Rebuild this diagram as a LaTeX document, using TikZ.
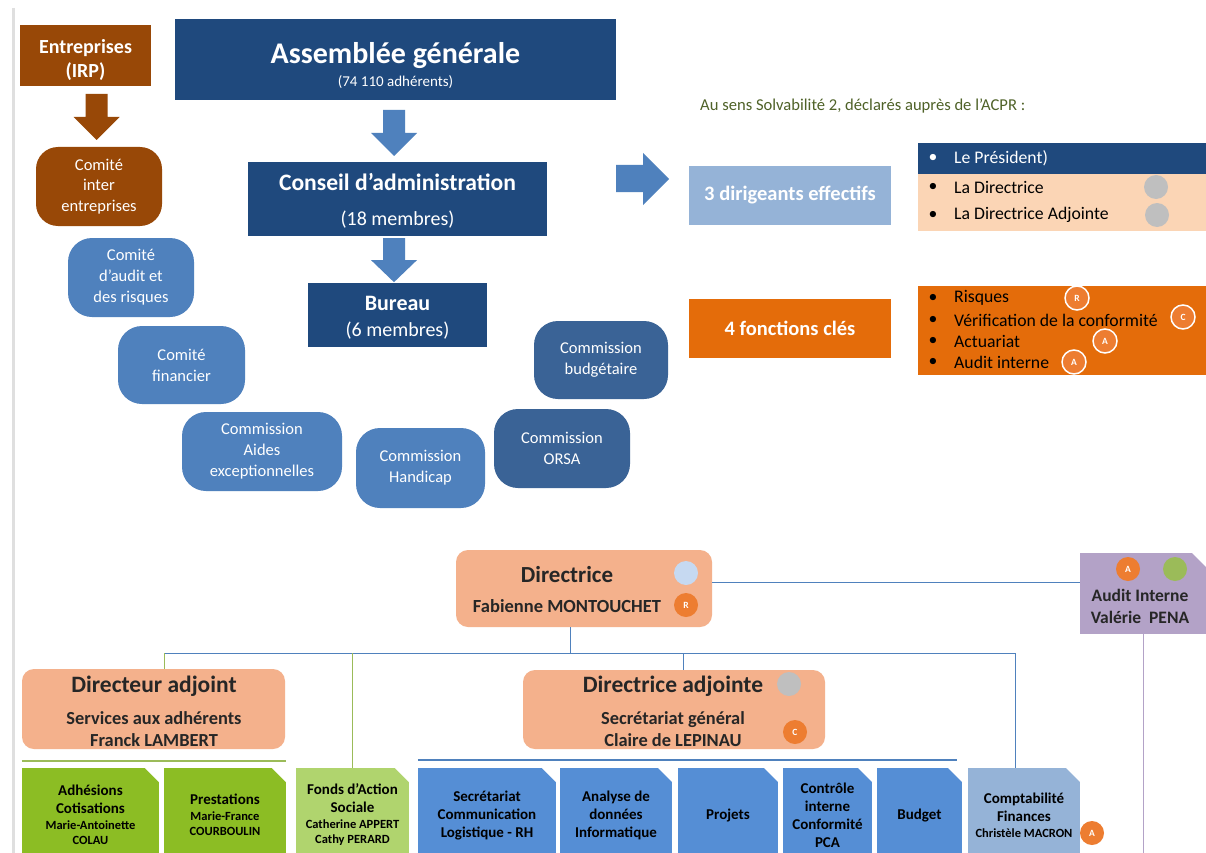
\documentclass[tikz,border=0pt]{standalone}
\usepackage{fontspec}
\setmainfont{Carlito}
\usetikzlibrary{calc}

\definecolor{navy}{HTML}{1F497D}
\definecolor{brun}{HTML}{984807}
\definecolor{bleu}{HTML}{4F81BD}
\definecolor{bleufonce}{HTML}{3A6396}
\definecolor{bleuclair}{HTML}{95B3D7}
\definecolor{orfonce}{HTML}{E46C0A}
\definecolor{peche}{HTML}{FBD5B5}
\definecolor{saumon}{HTML}{F4B18C}
\definecolor{vert}{HTML}{8CBD24}
\definecolor{vertclair}{HTML}{B0D46E}
\definecolor{bleubox}{HTML}{558ED5}
\definecolor{mauve}{HTML}{B3A2C7}
\definecolor{vertrond}{HTML}{9BBB59}
\definecolor{gristxt}{HTML}{262626}
\definecolor{vertxt}{HTML}{4F6228}
\definecolor{rondgris}{HTML}{BFBFBF}
\definecolor{rondbleu}{HTML}{C6D9F1}
\definecolor{rondor}{HTML}{ED7D31}

\newcommand{\fsz}[2]{\fontsize{#1}{#2}\selectfont}

\tikzset{
  box/.style={inner sep=0pt, align=center, text=white},
  comite/.style={box, rounded corners=24pt, fill=bleu, font=\fsz{16.5}{21}},
  txt/.style={inner sep=0pt, align=center, text=gristxt},
  itm/.style={anchor=west, inner sep=0pt, font=\fsz{17.7}{20}},
  puce/.style={inner sep=0pt, font=\fsz{17.7}{20}},
  rond/.style={circle, minimum size=24, inner sep=0pt, font=\bfseries\fsz{9.5}{10}, text=white},
  fold/.style={fill=#1, path picture={
    \fill[white] ($(path picture bounding box.north east)+(-14,0)$)
      -- (path picture bounding box.north east)
      -- ($(path picture bounding box.north east)+(0,14)$) -- cycle;}},
  tab/.style={fold=#1, inner sep=0pt, align=center, text=black,
    minimum height=94, font=\bfseries\fsz{15}{18}},
  lien/.style={draw=bleu, line width=1pt},
  lienvert/.style={draw=vertrond, line width=1pt},
  pics/flechebas/.style={code={
    \fill (-11,0) -- (11,0) -- (11,23) -- (23,23) -- (0,46)
      -- (-23,23) -- (-11,23) -- cycle;}}
}

\begin{document}
\begin{tikzpicture}[x=1pt, y=-1pt]
  \useasboundingbox (0,0) rectangle (1206,853);
  \clip (0,0) rectangle (1206,853);
  \fill[white] (0,0) rectangle (1206,853);
  \draw[gray!25, line width=3pt] (13,8) -- (13,853);

  % gouvernance
  \node[fill=brun, minimum width=131, minimum height=61, inner sep=0pt] (ent) at (85.5,55.5) {};
  \node[box, font=\bfseries\fsz{20}{24}] (entT) at (85.5,60) {Entreprises\\(IRP)};
  \pic[brun] at (96.5,94) {flechebas};
  \node[box, fill=brun, rounded corners=22pt, minimum width=126, minimum height=79, font=\fsz{16.5}{20.5}] (cie) at (99,186.5) {Comité\\inter\\entreprises};

  \node[fill=navy, minimum width=441, minimum height=81, inner sep=0pt] (ag) at (395.5,59.5) {};
  \node[box, font=\fsz{15}{23}] (agT) at (395.5,66) {{\fsz{30}{30}\bfseries Assemblée générale}\\(74 110 adhérents)};
  \pic[bleu] at (394,110) {flechebas};
  \node[fill=navy, minimum width=299, minimum height=74, inner sep=0pt] (ca) at (397.5,199) {};
  \node[box, font=\fsz{20}{35}] (caT) at (397.5,201) {{\fsz{23.6}{23.6}\bfseries Conseil d’administration}\\(18 membres)};
  \pic[bleu, yscale=0.96] at (394,238) {flechebas};
  \node[fill=navy, minimum width=179, minimum height=64, inner sep=0pt] (bur) at (397.5,315) {};
  \node[box, font=\fsz{20}{26}] (burT) at (397.5,318) {{\fsz{22}{22}\bfseries Bureau}\\(6 membres)};

  \node[comite, minimum width=126, minimum height=79] (caud) at (131,277.5) {Comité\\d’audit et\\des risques};
  \node[comite, minimum width=127, minimum height=78] (cfin) at (181.5,365) {Comité\\financier};
  \node[comite, minimum width=160, minimum height=79] (caides) at (262,451.5) {Commission\\Aides\\exceptionnelles};
  \node[comite, minimum width=129, minimum height=80] (chand) at (420.5,468) {Commission\\Handicap};
  \node[comite, fill=bleufonce, minimum width=136, minimum height=79] (corsa) at (562,448.5) {Commission\\ORSA};
  \node[comite, fill=bleufonce, minimum width=134, minimum height=78] (cbud) at (601,360) {Commission\\budgétaire};

  % solvabilite 2
  \node[anchor=west, inner sep=0pt, text=vertxt, font=\fsz{16.6}{19}] (solv) at (700,106) {Au sens Solvabilité 2, déclarés auprès de l’ACPR :};
  \fill[bleu] (616,165) -- (643,165) -- (643,153) -- (669,179) -- (643,205) -- (643,192) -- (616,192) -- cycle;
  \node[box, fill=bleuclair, minimum width=202, minimum height=59, font=\bfseries\fsz{20.5}{23}] (dir3) at (790,195.5) {3 dirigeants effectifs};
  \node[box, fill=orfonce, minimum width=202, minimum height=59, font=\bfseries\fsz{20.5}{23}] (fon4) at (790,328.5) {4 fonctions clés};

  \node[fill=navy, minimum width=288, minimum height=31, inner sep=0pt] (pres) at (1062,158.5) {};
  \node[fill=peche, minimum width=288, minimum height=57, inner sep=0pt] (dirpan) at (1062,202.5) {};
  \node[fill=orfonce, minimum width=288, minimum height=89, inner sep=0pt] (fonpan) at (1062,330.5) {};
  \node[itm, text=white] (pres1) at (954,158) {Le Président)};
  \node[puce, text=white] (bul1) at (933,158) {\textbullet};
  \foreach \y/\t [count=\i] in {187/La Directrice, 215/La Directrice Adjointe} {
    \node[itm, text=black] (dl\i) at (954,\y) {\t};
    \node[puce] (db\i) at (933,\y) {\textbullet};
  }
  \foreach \y/\t [count=\i] in {298/Risques, 320/Vérification de la conformité, 341/Actuariat, 362/Audit interne} {
    \node[itm, text=black] (fl\i) at (954,\y) {\t};
    \node[puce] (fb\i) at (933,\y) {\textbullet};
  }
  \node[rond, fill=rondgris] (g1) at (1156,187) {};
  \node[rond, fill=rondgris] (g2) at (1157,215) {};
  \node[rond, fill=rondor, draw=white, line width=1.5pt] (fr) at (1077,298) {R};
  \node[rond, fill=rondor, draw=white, line width=1.5pt] (fc) at (1183,317) {C};
  \node[rond, fill=rondor, draw=white, line width=1.5pt] (fa1) at (1105,341) {A};
  \node[rond, fill=rondor, draw=white, line width=1.5pt] (fa2) at (1074,362) {A};

  % organigramme
  \node[fill=saumon, rounded corners=12pt, minimum width=256, minimum height=77] (dir) at (584,588.5) {};
  \node[txt, font=\bfseries\fsz{18.5}{30}] (dirT) at (567,589) {{\fsz{23}{23}Directrice}\\Fabienne MONTOUCHET};
  \node[rond, fill=rondbleu] (dirb) at (686,573) {};
  \node[rond, fill=rondor] (dirr) at (686,605) {R};

  \node[fold=mauve, minimum width=126, minimum height=81, inner sep=0pt] (audit) at (1143,593.5) {};
  \node[txt, font=\bfseries\fsz{17.5}{22}] (auditT) at (1140,606) {Audit Interne\\Valérie\ \ PENA};
  \node[rond, fill=rondor] (aua) at (1128,569) {A};
  \node[rond, fill=vertrond] (auv) at (1175,569) {};

  \node[fill=saumon, rounded corners=12pt, minimum width=263, minimum height=80] (dadj) at (153.5,709) {};
  \node[txt, font=\bfseries\fsz{18.4}{22}] (dadjT) at (154,711) {{\fsz{23.5}{23.5}Directeur adjoint}\\[10pt]Services aux adhérents\\Franck LAMBERT};
  \node[fill=saumon, rounded corners=12pt, minimum width=302, minimum height=79] (dadje) at (674,709.5) {};
  \node[txt, font=\bfseries\fsz{18.4}{22}] (dadjeT) at (673,711) {{\fsz{23.5}{23.5}Directrice adjointe}\\[10pt]Secrétariat général\\Claire de LEPINAU};
  \node[rond, fill=rondgris] (dadjeg) at (789,684) {};
  \node[rond, fill=rondor] (dadjec) at (795,732) {C};

  \node[tab=vert, minimum width=137] (adh) at (90.5,815) {Adhésions\\Cotisations\\[-2pt]{\fsz{12.5}{15}Marie-Antoinette}\\[-3pt]{\fsz{12.5}{15}COLAU}};
  \node[tab=vert, minimum width=122] (pre) at (225,815) {Prestations\\[-2pt]{\fsz{12.5}{15}Marie-France}\\[-3pt]{\fsz{12.5}{15}COURBOULIN}};
  \node[tab=vertclair, minimum width=113] (fas) at (352.5,815) {Fonds d’Action\\Sociale\\[-2pt]{\fsz{12.5}{15}Catherine APPERT}\\[-3pt]{\fsz{12.5}{15}Cathy PERARD}};
  \node[tab=bleubox, minimum width=138] (sec) at (487,815) {Secrétariat\\Communication\\Logistique - RH};
  \node[tab=bleubox, minimum width=112] (ana) at (616,815) {Analyse de\\données\\Informatique};
  \node[tab=bleubox, minimum width=100] (pro) at (728,815) {Projets};
  \node[tab=bleubox, minimum width=89] (ctl) at (827.5,815) {Contrôle\\interne\\Conformité\\PCA};
  \node[tab=bleubox, minimum width=85] (bud) at (919.5,815) {Budget};
  \node[tab=bleuclair, minimum width=112] (cpt) at (1024,815) {Comptabilité\\Finances\\[-2pt]{\fsz{12.5}{15}Christèle MACRON}};
  \node[rond, fill=rondor] (cpta) at (1092,833) {A};

  % liaisons
  \coordinate (busL) at (164,653);
  \coordinate (busD) at (570,653);
  \coordinate (busF) at (352,653);
  \coordinate (busA) at (683,653);
  \coordinate (busR) at (1015,653);
  \coordinate (lienAu) at (712,582);
  \coordinate (bas) at (0,860);
  \draw[lien] (busD |- dir.south) -- (busD);
  \draw[lien] (busL) -- (busR);
  \draw[lienvert] (busL) -- (busL |- dadj.north);
  \draw[lienvert] (busF) -- (busF |- fas.north);
  \draw[lien] (busA) -- (busA |- dadje.north);
  \draw[lien] (busR) -- (busR |- cpt.north);
  \draw[lien] (lienAu) -- (lienAu -| audit.west);
  \draw[draw=mauve, line width=1pt] (audit.south) -- (audit.south |- bas);
  \draw[lienvert, line width=1.5pt] ($(adh.north west)+(0,-7)$) -- ($(pre.north east)+(0,-7)$);
  \draw[lien, line width=1.5pt] ($(sec.north west)+(0,-8)$) -- ($(bud.north east)+(-5,-8)$);
\end{tikzpicture}
\end{document}
